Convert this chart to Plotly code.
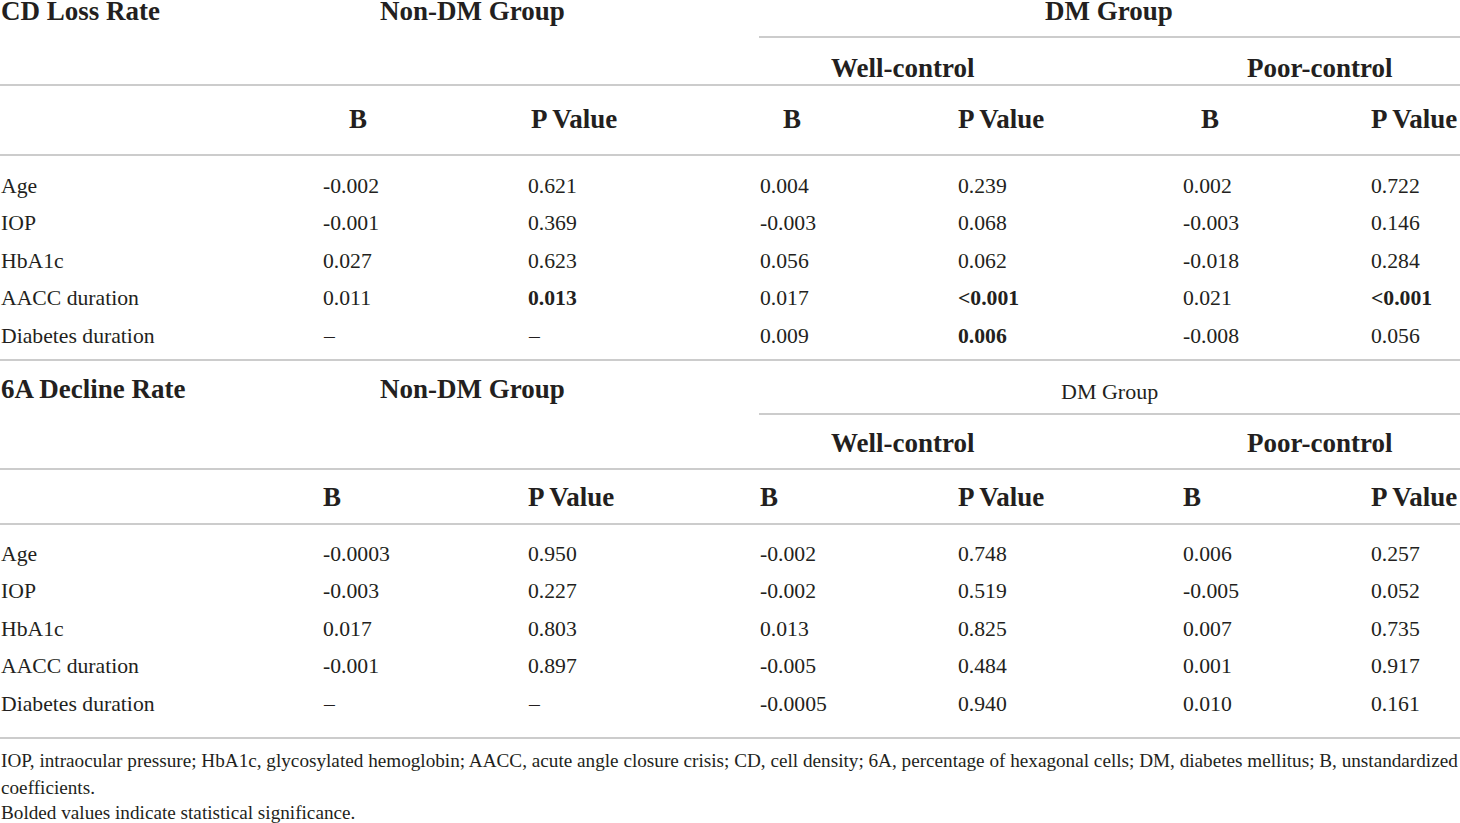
import plotly.graph_objects as go

# table content
row_labels = ["Age", "IOP", "HbA1c", "AACC duration", "Diabetes duration"]

cd_non_b = ["-0.002", "-0.001", "0.027", "0.011", "–"]
cd_non_p = ["0.621", "0.369", "0.623", "0.013", "–"]
cd_well_b = ["0.004", "-0.003", "0.056", "0.017", "0.009"]
cd_well_p = ["0.239", "0.068", "0.062", "<0.001", "0.006"]
cd_poor_b = ["0.002", "-0.003", "-0.018", "0.021", "-0.008"]
cd_poor_p = ["0.722", "0.146", "0.284", "<0.001", "0.056"]
# (column, row) of bolded values in CD section
cd_bold = [(1, 3), (3, 3), (3, 4), (5, 3)]

a6_non_b = ["-0.0003", "-0.003", "0.017", "-0.001", "–"]
a6_non_p = ["0.950", "0.227", "0.803", "0.897", "–"]
a6_well_b = ["-0.002", "-0.002", "0.013", "-0.005", "-0.0005"]
a6_well_p = ["0.748", "0.519", "0.825", "0.484", "0.940"]
a6_poor_b = ["0.006", "-0.005", "0.007", "0.001", "0.010"]
a6_poor_p = ["0.257", "0.052", "0.735", "0.917", "0.161"]
a6_bold = []

footnotes = [
    "IOP, intraocular pressure; HbA1c, glycosylated hemoglobin; AACC, acute angle closure crisis; "
    "CD, cell density; 6A, percentage of hexagonal cells; DM, diabetes mellitus; B, unstandardized",
    "coefficients.",
    "Bolded values indicate statistical significance.",
]

# layout (pixel positions in the 1460x823 canvas)
W, H = 1460, 823
col_x = [0, 322, 527, 759, 957, 1182, 1370]
FONT = "Liberation Serif, Times New Roman, serif"
TXT = "#231f20"
LINE = "#cccccc"
HEAD = 27
BODY = 21.7

fig = go.Figure()
fig.add_trace(go.Scatter(x=[0, W], y=[0, H], mode="markers",
                         marker=dict(opacity=0), hoverinfo="skip", showlegend=False))


def txt(x, y, s, size=BODY, bold=False, anchor="left"):
    if bold:
        s = "<b>" + s + "</b>"
    fig.add_annotation(x=x, y=y, text=s, showarrow=False, xref="x", yref="y",
                       xanchor=anchor, yanchor="middle", borderpad=0,
                       font=dict(family=FONT, size=size, color=TXT))


def hline(y, x0=0, x1=W):
    fig.add_shape(type="line", x0=x0, x1=x1, y0=y, y1=y, xref="x", yref="y",
                  line=dict(color=LINE, width=2))


def section(title, title_y, dm_y, dm_size, dm_bold, sub_y, head_y, head_x,
            rows_y, cols, bold_cells, lines):
    txt(0, title_y, title, size=HEAD, bold=True)
    txt(472, title_y, "Non-DM Group", size=HEAD, bold=True, anchor="center")
    txt(1109, dm_y, "DM Group", size=dm_size, bold=dm_bold, anchor="center")
    txt(903, sub_y, "Well-control", size=HEAD, bold=True, anchor="center")
    txt(1320, sub_y, "Poor-control", size=HEAD, bold=True, anchor="center")
    for hx, h in zip(head_x, ["B", "P Value"] * 3):
        txt(hx, head_y, h, size=HEAD, bold=True)
    for r, lab in enumerate(row_labels):
        txt(col_x[0], rows_y[r], lab)
        for c, col in enumerate(cols):
            txt(col_x[c + 1], rows_y[r], col[r], bold=(c, r) in bold_cells)
    for ln in lines:
        hline(*ln)


section("CD Loss Rate", 11, 11, HEAD, True, 68, 119,
        [348, 530, 782, 957, 1200, 1370],
        [186, 223, 261, 298, 336],
        [cd_non_b, cd_non_p, cd_well_b, cd_well_p, cd_poor_b, cd_poor_p],
        cd_bold,
        [(37, 759, W), (85,), (155,), (360,)])

section("6A Decline Rate", 389, 391, 22, False, 443, 497,
        [322, 527, 759, 957, 1182, 1370],
        [554, 591, 629, 666, 704],
        [a6_non_b, a6_non_p, a6_well_b, a6_well_p, a6_poor_b, a6_poor_p],
        a6_bold,
        [(414, 759, W), (469,), (524,), (738,)])

for y, s in zip([760, 787, 812], footnotes):
    txt(0, y, s, size=19.2)

fig.update_xaxes(range=[0, W], visible=False, fixedrange=True)
fig.update_yaxes(range=[H, 0], visible=False, fixedrange=True)
fig.update_layout(width=W, height=H, margin=dict(l=0, r=0, t=0, b=0),
                  plot_bgcolor="white", paper_bgcolor="white", showlegend=False)

# page body has a default 8px margin; drop it so the figure fills the window
fig.write_html("out.html", config={"displayModeBar": False},
               post_script="document.body.style.margin='0';")
